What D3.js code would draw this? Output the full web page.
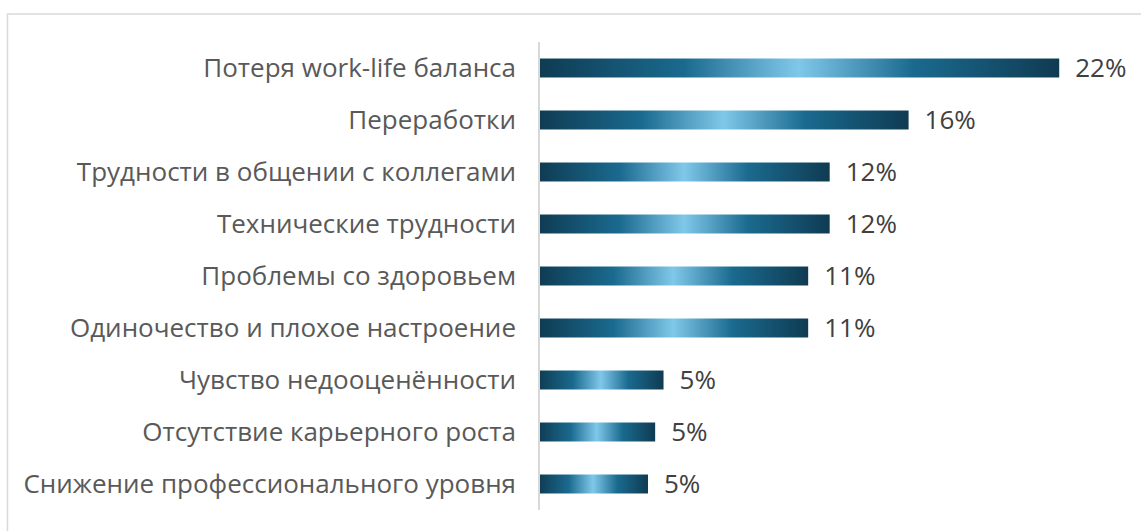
<!DOCTYPE html>
<html>
<head>
<meta charset="utf-8">
<script src="https://cdn.jsdelivr.net/npm/d3@7"></script>
<style>
  body { margin: 0; background: #fff; }
  text { font-family: "Open Sans", sans-serif; }
</style>
</head>
<body>
<script>
var width = 1141,
    height = 531;

// data (labels show rounded percent)
var categories = [
  "Потеря work-life баланса",
  "Переработки",
  "Трудности в общении с коллегами",
  "Технические трудности",
  "Проблемы со здоровьем",
  "Одиночество и плохое настроение",
  "Чувство недооценённости",
  "Отсутствие карьерного роста",
  "Снижение профессионального уровня"
];
var values = [21.8, 15.5, 12.2, 12.2, 11.3, 11.3, 5.25, 4.9, 4.6];

var axisX = 539, plotTop = 42, plotH = 468;

var svg = d3.select("body")
  .append("svg")
  .attr("width", width)
  .attr("height", height);

var defs = svg.append("defs");
var grad = defs.append("linearGradient")
  .attr("id", "barGrad")
  .attr("x1", "0%").attr("x2", "100%")
  .attr("y1", "0%").attr("y2", "0%");
grad.selectAll("stop")
  .data([
    [0, "#0f3b52"],
    [0.28, "#1a6a8f"],
    [0.5, "#80c8ea"],
    [0.72, "#1a6a8f"],
    [1, "#0f3b52"]
  ])
  .enter().append("stop")
  .attr("offset", function(d){ return d[0]; })
  .attr("stop-color", function(d){ return d[1]; });

// outer frame
svg.append("rect")
  .attr("x", 7.5).attr("y", 14)
  .attr("width", 1300).attr("height", 700)
  .attr("fill", "none")
  .attr("stroke", "#d9d9d9")
  .attr("stroke-width", 1.5);

var x = d3.scaleLinear()
  .domain([0, 22])
  .range([axisX - 1, axisX - 1 + 526]);

var y = d3.scaleBand()
  .domain(categories)
  .range([plotTop, plotTop + plotH])
  .paddingInner(0.635)
  .paddingOuter(0.3175);

svg.selectAll(".bar")
  .data(values)
  .enter().append("rect")
  .attr("class", "bar")
  .attr("x", x(0))
  .attr("y", function(d, i){ return y(categories[i]); })
  .attr("width", function(d){ return x(d) - x(0); })
  .attr("height", y.bandwidth())
  .attr("fill", "url(#barGrad)");

// category labels
svg.selectAll(".cat")
  .data(categories)
  .enter().append("text")
  .attr("class", "cat")
  .attr("x", axisX - 23)
  .attr("y", function(d){ return y(d) + y.bandwidth() / 2; })
  .attr("dy", "0.35em")
  .attr("text-anchor", "end")
  .attr("font-size", 26)
  .attr("fill", "#595959")
  .text(function(d){ return d; });

// value labels
svg.selectAll(".val")
  .data(values)
  .enter().append("text")
  .attr("class", "val")
  .attr("x", function(d){ return x(d) + 16; })
  .attr("y", function(d, i){ return y(categories[i]) + y.bandwidth() / 2; })
  .attr("dy", "0.36em")
  .attr("font-size", 26)
  .attr("fill", "#404040")
  .text(function(d){ return Math.round(d) + "%"; });

// vertical axis line
svg.append("line")
  .attr("x1", axisX).attr("x2", axisX)
  .attr("y1", plotTop).attr("y2", plotTop + plotH)
  .attr("stroke", "#d9d9d9")
  .attr("stroke-width", 2);
</script>
</body>
</html>
